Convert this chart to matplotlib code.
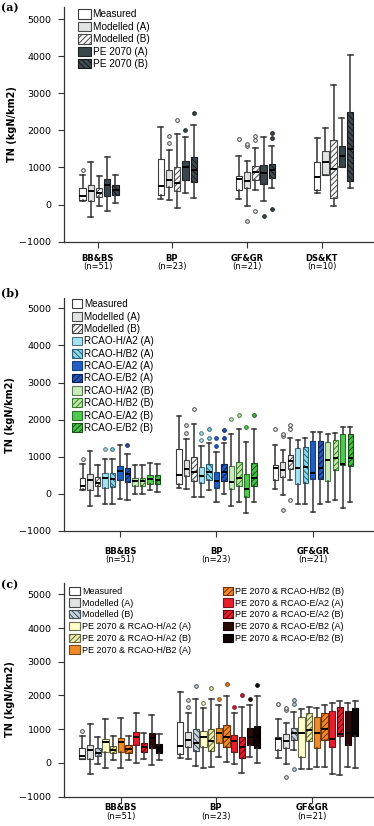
import numpy as np
import matplotlib
matplotlib.use('Agg')
import matplotlib.pyplot as plt
from matplotlib.patches import Patch

plt.rcParams['font.family'] = 'DejaVu Sans'
plt.rcParams['hatch.linewidth'] = 0.7

# sites (categories) and sample sizes
sites_a = ['BB&BS', 'BP', 'GF&GR', 'DS&KT']
n_sites_a = ['(n=51)', '(n=23)', '(n=21)', '(n=10)']
sites_bc = sites_a[:3]
n_sites_bc = n_sites_a[:3]

# each row: [whisker low, Q1, median, Q3, whisker high], one row per site
measured = [[110, 130, 220, 440, 800], [150, 260, 510, 1220, 2100],
            [140, 386, 700, 780, 1310], [300, 400, 746, 1150, 1806]]
measured_out = [[935], [], [1760], []]
modelled_a = [[-335, 110, 375, 530, 1160], [130, 470, 670, 920, 1480],
              [-40, 458, 647, 870, 1186], [810, 810, 1140, 1437, 2057]]
modelled_a_out = [[], [1650, 1860], [-430, 1570, 1620], []]
modelled_b = [[-45, 200, 300, 450, 765], [-80, 360, 590, 1005, 1895],
              [386, 674, 880, 1050, 1518], [-50, 189, 960, 1733, 3234]]
modelled_b_out = [[], [2275], [-170, 1752, 1860], []]

# (a) population scenario
pe2070_a = [[-185, 245, 530, 692, 1278], [305, 670, 1000, 1168, 1814],
            [89, 566, 840, 1070, 1814], [1005, 1005, 1320, 1571, 2337]]
pe2070_a_out = [[], [2000], [-296], []]
pe2070_b = [[35, 250, 390, 520, 805], [180, 620, 940, 1275, 2140],
            [450, 710, 925, 1097, 1590], [450, 628, 1509, 2498, 4043]]
pe2070_b_out = [[], [2480], [-116, 1798, 1932], []]

# (b) climate scenarios
h_a2_a = [[-280, 170, 420, 560, 940], [-72, 288, 494, 737, 1290], [-280, 260, 708, 1246, 1452]]
h_a2_a_out = [[1200], [1450, 1650], []]
h_b2_a = [[-270, 180, 400, 570, 935], [108, 377, 584, 809, 1366], [-280, 305, 735, 1272, 1514]]
h_b2_a_out = [[1200], [1518, 1743], []]
e_a2_a = [[-150, 365, 615, 755, 1330], [-207, 153, 359, 584, 1141], [-494, 403, 556, 1434, 1667]]
e_a2_a_out = [[], [1294, 1500], []]
e_b2_a = [[-175, 310, 545, 700, 1080], [0, 358, 600, 806, 1362], [-279, 403, 700, 1416, 1667]]
e_b2_a_out = [[1315], [1514, 1720], []]
h_a2_b = [[0, 200, 340, 440, 785], [-322, 130, 332, 745, 1625], [-206, 349, 914, 1398, 1622]]
h_a2_b_out = [[], [2010], []]
h_b2_b = [[0, 200, 350, 440, 785], [-206, 220, 435, 850, 1738], [-170, 640, 960, 1460, 1649]]
h_b2_b_out = [[], [2130], []]
e_a2_b = [[95, 275, 400, 520, 825], [-521, -95, 120, 535, 1410], [-385, 780, 806, 1604, 1810]]
e_a2_b_out = [[], [1812], []]
e_b2_b = [[50, 255, 380, 502, 815], [-206, 215, 430, 845, 1735], [-206, 753, 977, 1604, 1810]]
e_b2_b_out = [[], [2127], []]

# (c) combined population + climate scenarios
pe_h_a2_a = [[-158, 325, 621, 720, 1292], [-158, 483, 759, 956, 1617], [-187, 168, 878, 1351, 1588]]
pe_h_a2_a_out = [[], [1785], []]
pe_h_a2_b = [[89, 286, 385, 503, 799], [-108, 355, 651, 996, 1884], [-187, 661, 976, 1470, 1667]]
pe_h_a2_b_out = [[], [2209], []]
pe_h_b2_a = [[-138, 335, 612, 749, 1322], [187, 582, 878, 1045, 1716], [-128, 454, 897, 1371, 1617]]
pe_h_b2_a_out = [[], [1884], []]
pe_h_b2_b = [[89, 286, 404, 523, 799], [39, 483, 759, 1114, 1992], [-128, 680, 1016, 1489, 1716]]
pe_h_b2_b_out = [[], [2327], []]
pe_e_a2_a = [[10, 523, 779, 927, 1470], [-30, 335, 651, 828, 1470], [-335, 483, 700, 1548, 1765]]
pe_e_a2_a_out = [[], [1667], []]
pe_e_a2_b = [[108, 335, 483, 602, 878], [-286, 138, 483, 779, 1647], [-355, 799, 870, 1647, 1844]]
pe_e_a2_b_out = [[], [2012], []]
pe_e_b2_a = [[-59, 434, 730, 878, 1410], [187, 532, 780, 1026, 1716], [-108, 532, 880, 1548, 1765]]
pe_e_b2_a_out = [[], [1884], []]
pe_e_b2_b = [[99, 296, 480, 572, 858], [10, 434, 800, 1095, 1982], [-158, 799, 900, 1637, 1844]]
pe_e_b2_b_out = [[], [2308], []]

HB = r'\\\\\\'
FS = '//////'

series_a = [
    ('Measured', measured, measured_out, '#ffffff', '#3c3c3c', ''),
    ('Modelled (A)', modelled_a, modelled_a_out, '#e2e4e4', '#4a4a4a', ''),
    ('Modelled (B)', modelled_b, modelled_b_out, '#f6f6f6', '#4a4a4a', FS),
    ('PE 2070 (A)', pe2070_a, pe2070_a_out, '#3a4649', '#1e2426', ''),
    ('PE 2070 (B)', pe2070_b, pe2070_b_out, '#3f4a4e', '#141a1c', HB),
]
series_b = [
    ('Measured', measured, measured_out, '#ffffff', '#3c3c3c', ''),
    ('Modelled (A)', modelled_a, modelled_a_out, '#e2e4e4', '#4a4a4a', ''),
    ('Modelled (B)', modelled_b, modelled_b_out, '#f6f6f6', '#404040', FS),
    ('RCAO-H/A2 (A)', h_a2_a, h_a2_a_out, '#a5e3f4', '#50707a', ''),
    ('RCAO-H/B2 (A)', h_b2_a, h_b2_a_out, '#8cd6ea', '#2b5f74', HB),
    ('RCAO-E/A2 (A)', e_a2_a, e_a2_a_out, '#1f5fc4', '#173c7c', ''),
    ('RCAO-E/B2 (A)', e_b2_a, e_b2_a_out, '#2458b8', '#0b1f55', FS),
    ('RCAO-H/A2 (B)', h_a2_b, h_a2_b_out, '#c7eeb8', '#5e7a58', ''),
    ('RCAO-H/B2 (B)', h_b2_b, h_b2_b_out, '#bdeaa6', '#3d7a33', FS),
    ('RCAO-E/A2 (B)', e_a2_b, e_a2_b_out, '#4ccb4c', '#2e6e2e', ''),
    ('RCAO-E/B2 (B)', e_b2_b, e_b2_b_out, '#46c046', '#145214', FS),
]
series_c = [
    ('Measured', measured, measured_out, '#ffffff', '#3c3c3c', ''),
    ('Modelled (A)', modelled_a, modelled_a_out, '#e2e4e4', '#4a4a4a', ''),
    ('Modelled (B)', modelled_b, modelled_b_out, '#c8d4da', '#3e4e58', HB),
    ('PE 2070 & RCAO-H/A2 (A)', pe_h_a2_a, pe_h_a2_a_out, '#ffffc8', '#6a6a50', ''),
    ('PE 2070 & RCAO-H/A2 (B)', pe_h_a2_b, pe_h_a2_b_out, '#eeeeb0', '#5f6238', FS),
    ('PE 2070 & RCAO-H/B2 (A)', pe_h_b2_a, pe_h_b2_a_out, '#f08a26', '#7a4a18', ''),
    ('PE 2070 & RCAO-H/B2 (B)', pe_h_b2_b, pe_h_b2_b_out, '#f08a26', '#7a2e00', FS),
    ('PE 2070 & RCAO-E/A2 (A)', pe_e_a2_a, pe_e_a2_a_out, '#e61e2d', '#7a1018', ''),
    ('PE 2070 & RCAO-E/A2 (B)', pe_e_a2_b, pe_e_a2_b_out, '#e61e2d', '#5e0010', FS),
    ('PE 2070 & RCAO-E/B2 (A)', pe_e_b2_a, pe_e_b2_a_out, '#2b0a0a', '#140404', ''),
    ('PE 2070 & RCAO-E/B2 (B)', pe_e_b2_b, pe_e_b2_b_out, '#0d0404', '#000000', ''),
]


def draw_boxes(ax, series, ncat, step, width):
    nser = len(series)
    for k, (label, rows, outs, face, edge, hatch) in enumerate(series):
        stats = [dict(whislo=r[0], q1=r[1], med=r[2], q3=r[3], whishi=r[4], fliers=o)
                 for r, o in zip(rows[:ncat], outs[:ncat])]
        pos = np.arange(ncat) + (k - (nser - 1) / 2) * step
        ax.bxp(stats, positions=pos, widths=width, capwidths=width * 0.8,
               patch_artist=True, manage_ticks=False,
               boxprops=dict(facecolor=face, edgecolor=edge, hatch=hatch, linewidth=0.8),
               whiskerprops=dict(color='#333333', linewidth=1.1),
               capprops=dict(color='#333333', linewidth=1.1),
               medianprops=dict(color='black', linewidth=1.4),
               flierprops=dict(marker='o', markersize=2.6, markerfacecolor=face,
                               markeredgecolor=edge, markeredgewidth=0.7, linestyle='none'))


def style_axes(ax, xlim, ylim, ticks, names, ns, name_off, n_off, ylab_x, ylab_y=0.5):
    ax.set_xlim(*xlim)
    ax.set_ylim(*ylim)
    for s in ['top', 'right']:
        ax.spines[s].set_visible(False)
    for s in ['left', 'bottom']:
        ax.spines[s].set_color('#333333')
        ax.spines[s].set_linewidth(0.9)
    ax.set_yticks(np.arange(-1000, 5001, 1000))
    ax.tick_params(axis='y', length=4, width=0.8, pad=5, labelsize=6.8, colors='#333333', labelcolor='black')
    ax.set_xticks(ticks)
    ax.set_xticklabels([])
    ax.tick_params(axis='x', length=4, width=0.8, colors='#333333')
    for x, name, n in zip(ticks, names, ns):
        ax.annotate(name, xy=(x, 0), xycoords=('data', 'axes fraction'), xytext=(0, -name_off * 0.72),
                    textcoords='offset points', ha='center', va='center', fontsize=6, fontweight='bold')
        ax.annotate(n, xy=(x, 0), xycoords=('data', 'axes fraction'), xytext=(0, -n_off * 0.72),
                    textcoords='offset points', ha='center', va='center', fontsize=6)
    ax.set_ylabel('TN (kgN/km2)', fontweight='bold', fontsize=7, va='center')
    ax.yaxis.set_label_coords(ylab_x, ylab_y)


def add_legend(ax, series, anchor, fs, hl, hh, ls):
    handles = [Patch(facecolor=f, edgecolor=e, hatch=h, linewidth=0.8, label=l)
               for l, _, _, f, e, h in series]
    leg = ax.legend(handles=handles, loc='upper left', bbox_to_anchor=anchor, frameon=False,
                    prop=dict(family='Liberation Sans', size=fs), handlelength=hl, handleheight=hh,
                    labelspacing=ls, handletextpad=0.2, borderpad=0, borderaxespad=0)
    return leg


fig = plt.figure(figsize=(3.74, 8.26), dpi=100)
W, H = 374, 826
ax_a = fig.add_axes([64 / W, 1 - 241.7 / H, 309 / W, 234.7 / H])
ax_b = fig.add_axes([64 / W, 1 - 531 / H, 309 / W, 232.7 / H])
ax_c = fig.add_axes([64 / W, 1 - 796.7 / H, 309 / W, 213.4 / H])

# (a)
draw_boxes(ax_a, series_a, 4, 0.105, 0.08)
style_axes(ax_a, (-0.448, 3.504), (-1000, 5325), [-0.017, 0.93, 1.889, 2.85],
           sites_a, n_sites_a, 16.6, 25, -0.168)
add_legend(ax_a, series_a, (0.046, 0.99), 7.2, 1.23, 1.07, 0.23)

# (b)
draw_boxes(ax_b, series_b, 3, 0.0778, 0.055)
style_axes(ax_b, (-0.581, 2.625), (-1000, 5269), [0, 1.0, 2.0],
           sites_bc, n_sites_bc, 20.3, 28.8, -0.175)
add_legend(ax_b, series_b, (0.025, 0.996), 7.1, 1.07, 1.0, 0.24)

# (c)
draw_boxes(ax_c, series_c, 3, 0.0786, 0.064)
style_axes(ax_c, (-0.58, 2.573), (-1000, 5326), [0, 0.969, 1.948],
           sites_bc, n_sites_bc, 11, 19.3, -0.175, 0.458)
leg1 = add_legend(ax_c, series_c[:6], (0.017, 0.984), 6.5, 1.19, 1.05, 0.27)
ax_c.add_artist(leg1)
add_legend(ax_c, series_c[6:], (0.5136, 0.984), 6.5, 1.19, 1.05, 0.27)

for lab, yy in [('(a)', 7.5), ('(b)', 293), ('(c)', 584.5)]:
    fig.text(0.5 / W, 1 - yy / H, lab, family='DejaVu Serif', fontweight='bold',
             fontsize=8, ha='left', va='center')

fig.savefig('out.png', dpi=100)
